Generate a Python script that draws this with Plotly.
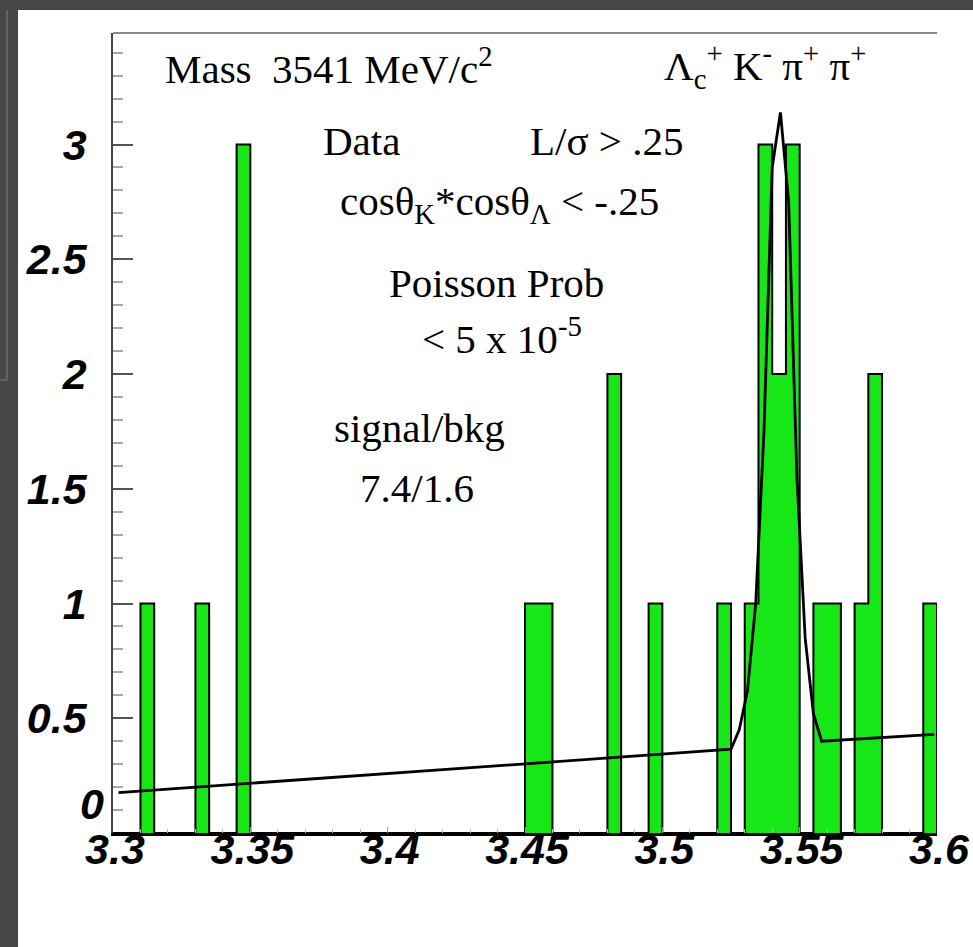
import plotly.graph_objects as go

# Histogram: candidate mass, 60 bins of 5 MeV from 3.30 to 3.60 GeV
BIN_START = 3.30
BIN_WIDTH = 0.005
counts = [
    0, 0, 1, 0, 0, 0, 1, 0, 0, 3,
    0, 0, 0, 0, 0, 0, 0, 0, 0, 0,
    0, 0, 0, 0, 0, 0, 0, 0, 0, 0,
    1, 1, 0, 0, 0, 0, 2, 0, 0, 1,
    0, 0, 0, 0, 1, 0, 1, 3, 2, 3,
    0, 1, 1, 0, 1, 2, 0, 0, 0, 1,
]

# Fitted curve (gaussian peak on a linear background), polyline vertices
fit_x = [3.302, 3.525, 3.528, 3.531, 3.534, 3.537, 3.540, 3.543,
         3.546, 3.549, 3.552, 3.555, 3.558, 3.599]
fit_y = [0.176, 0.365, 0.45, 0.62, 1.00, 1.75, 2.90, 3.14,
         2.75, 1.55, 0.85, 0.52, 0.40, 0.43]

x_tick_vals = [3.3, 3.35, 3.4, 3.45, 3.5, 3.55, 3.6]
x_tick_text = ["3.3", "3.35", "3.4", "3.45", "3.5", "3.55", "3.6"]
# the zero label is set apart, just above the x labels
y_tick_vals = [0, 0.5, 1, 1.5, 2, 2.5, 3]
y_tick_text = ["", "0.5", "1", "1.5", "2", "2.5", "3"]
y_zero_label = "0"

W, H = 973, 947
ML, MR, MT, MB = 113, 36, 33, 114
PW, PH = W - ML - MR, H - MT - MB

GREEN = "#17e617"
DARK = "#474747"


def paper(xp, yp):
    """Convert page pixel position to paper coordinates."""
    return (xp - ML) / PW, (H - MB - yp) / PH


edges = [BIN_START + BIN_WIDTH * i for i in range(len(counts) + 1)]
centers = [(edges[i] + edges[i + 1]) / 2 for i in range(len(counts))]

fig = go.Figure()

# filled bins
fig.add_trace(go.Bar(
    x=centers, y=counts, width=BIN_WIDTH,
    marker=dict(color=GREEN, line=dict(width=0)),
    hoverinfo="skip",
))

# histogram contour drawn as a step line
fig.add_trace(go.Scatter(
    x=[edges[0]] + edges, y=[0] + counts + [0],
    mode="lines", line=dict(color="black", width=2, shape="hv"),
    hoverinfo="skip",
))

# fit
fig.add_trace(go.Scatter(
    x=fit_x, y=fit_y, mode="lines",
    line=dict(color="black", width=2.8),
    hoverinfo="skip",
))

tick_font = dict(family="Liberation Sans", size=43, color="black",
                 weight="bold", style="italic")
serif = dict(family="Liberation Serif", size=41, color="black")

texts = [
    ("Mass\u00a0\u00a03541 MeV/c<sup>2</sup>", 163, 66),
    ("\u039b<sub>c</sub><sup>+</sup> K<sup>-</sup> \u03c0<sup>+</sup> \u03c0<sup>+</sup>", 662, 66),
    ("Data", 321, 141),
    ("L/\u03c3 &gt; .25", 528, 141),
    ("cos\u03b8<sub>K</sub>*cos\u03b8<sub>\u039b</sub> &lt; -.25", 338, 204),
    ("Poisson Prob", 387, 283),
    ("&lt; 5 x 10<sup>-5</sup>", 420, 336),
    ("signal/bkg", 332, 428),
    ("7.4/1.6", 358, 488),
]
annotations = []
for t, xp, yp in texts:
    px_, py_ = paper(xp, yp)
    annotations.append(dict(
        text=t, x=px_, y=py_, xref="paper", yref="paper",
        xanchor="left", yanchor="middle", showarrow=False, font=serif,
    ))

# zero of the y axis, placed at the origin corner
zx, _ = paper(106, 0)
annotations.append(dict(
    text=y_zero_label, x=zx, y=0, xref="paper", yref="y",
    xanchor="right", yanchor="middle", yshift=29, showarrow=False, font=tick_font,
))

# page border pieces around the canvas
x0p, _ = paper(0, 0)
x18, _ = paper(18, 0)
xr, _ = paper(W, 0)
_, ytop = paper(0, 0)
_, y10 = paper(0, 10)
_, ybot = paper(0, H)
x7, _ = paper(7, 0)
_, y380 = paper(0, 380)

shapes = [
    dict(type="rect", xref="paper", yref="paper", x0=x0p, x1=x18, y0=ybot, y1=ytop,
         fillcolor=DARK, line=dict(width=0), layer="above"),
    dict(type="rect", xref="paper", yref="paper", x0=x0p, x1=xr, y0=y10, y1=ytop,
         fillcolor=DARK, line=dict(width=0), layer="above"),
    dict(type="line", xref="paper", yref="paper", x0=x7, x1=x7, y0=y380, y1=y10,
         line=dict(color="#6c6c6c", width=1.5), layer="above"),
    dict(type="line", xref="paper", yref="paper", x0=x0p, x1=x7, y0=y380, y1=y380,
         line=dict(color="#6c6c6c", width=1.5), layer="above"),
    # top edge of the frame
    dict(type="line", xref="paper", yref="paper", x0=0, x1=1, y0=1, y1=1,
         line=dict(color="#8c8c8c", width=2), layer="above"),
]

fig.update_layout(
    width=W, height=H, autosize=False,
    margin=dict(l=ML, r=MR, t=MT, b=MB, pad=0, autoexpand=False),
    paper_bgcolor="white", plot_bgcolor="white",
    showlegend=False, bargap=0,
    annotations=annotations, shapes=shapes,
    xaxis=dict(
        range=[3.3, 3.6], showgrid=False, zeroline=False, automargin=False,
        showline=True, linecolor="black", linewidth=2.5,
        ticks="inside", ticklen=6, tickwidth=1, tickcolor="#999",
        tickvals=x_tick_vals, ticktext=x_tick_text, tickfont=tick_font,
        ticklabelstandoff=-23, ticklabelshift=2,
        minor=dict(ticks="inside", ticklen=4, dtick=0.01, tickcolor="#bbb", showgrid=False),
    ),
    yaxis=dict(
        range=[0, 3.486], showgrid=False, zeroline=False, automargin=False,
        showline=True, linecolor="#444", linewidth=1.5,
        ticks="inside", ticklen=20, tickwidth=1.5, tickcolor="#555",
        tickvals=y_tick_vals, ticktext=y_tick_text, tickfont=tick_font,
        ticklabelstandoff=16,
        minor=dict(ticks="inside", ticklen=10, dtick=0.1, tickcolor="#aaa", showgrid=False),
    ),
)

fig.write_html(
    "out.html",
    config={"displayModeBar": False},
    post_script="document.body.style.margin='0';document.body.style.overflow='hidden';",
)
